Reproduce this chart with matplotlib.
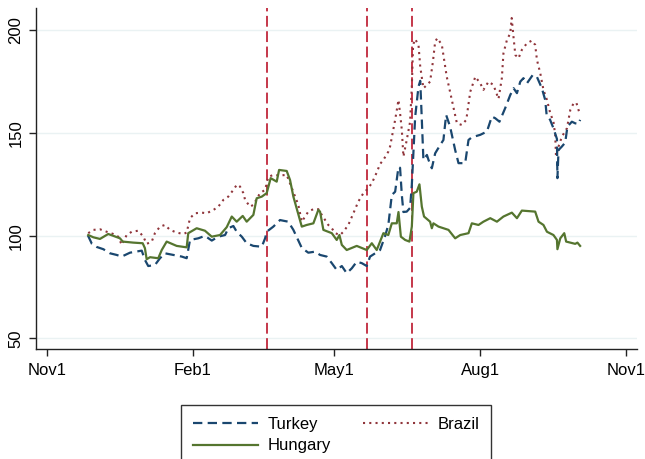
import pandas as pd
import matplotlib.pyplot as plt

# days after 1 Nov 2017 (index = 100)
turkey_days = [26, 28.5, 31.5, 35.7, 39.9, 44.1, 47.3, 52.5, 59.9, 61.9, 64, 68.2, 71.4, 74.5, 79.8,
               85.1, 88.2, 90.3, 95.5, 99.7, 104, 108.1, 112.4, 114.4, 117.6, 119.7, 122.9, 126,
               130.2, 135.5, 137.6, 138.6, 142.8, 147, 149.5, 152.2, 155.4, 160.7, 164.8, 169.1,
               172.2, 176.4, 179.6, 182.7, 185.9, 189, 192.2, 195.3, 198.5, 201.6, 203.7, 206.9,
               210, 213.2, 215.2, 217.4, 219.5, 221.6, 222.6, 223.7, 224.7, 226.8, 228.9, 230,
               232.1, 234.2, 235.3, 236.3, 237.3, 239.5, 240.5, 242.6, 244.7, 247.9, 249.9, 251.6,
               254.1, 257.3, 259.4, 263.6, 265.7, 267.8, 273.1, 277.3, 280.4, 282.5, 285.2, 288.8,
               292, 294.1, 296.2, 298.3, 300.3, 302.5, 306.2, 308.8, 311.9, 314, 314.9, 317.1,
               319.2, 321.4, 321.7, 322.4, 324.5, 326.6, 328, 330.8, 332.9, 335, 336]
turkey = [100.1, 96.0, 94.5, 93.4, 91.4, 90.6, 89.8, 91.7, 92.7, 88.2, 85.2, 85.7, 89.0, 91.4, 90.6,
          89.8, 89.0, 97.9, 98.7, 99.9, 97.6, 99.5, 100.3, 103.6, 104.7, 101.9, 99.5, 96.3,
          95.0, 94.6, 98.7, 101.9, 104.4, 107.6, 107.2, 106.8, 102.8, 94.0, 91.7, 92.2,
          90.6, 89.8, 86.6, 83.3, 85.2, 81.7, 84.1, 87.3, 86.6, 85.2, 89.8, 91.4,
          93.0, 99.9, 105.2, 119.8, 121.4, 133.5, 133.0, 119.8, 111.5, 111.7, 113.5, 124.7,
          157.8, 172.6, 175.4, 156.4, 136.9, 139.3, 136.9, 132.8, 140.1, 144.2, 146.6, 158.8,
          153.1, 141.7, 135.3, 135.3, 146.6, 147.9, 149.1, 150.7, 158.0, 157.2, 155.5, 162.1,
          168.5, 171.8, 169.4, 175.0, 176.7, 174.2, 178.3, 177.3, 171.8, 166.1, 158.8, 156.4,
          152.3, 147.1, 128.0, 141.7, 143.4, 145.3, 153.1, 155.5, 154.7, 154.4, 156.4]

hungary_days = [26.2, 29.4, 33.6, 38.8, 42, 46.2, 47.9, 54.6, 60.5, 61.9, 63, 65.1, 70.3, 72.5, 75.6,
                81.9, 88.2, 89.2, 94.5, 99.7, 104, 109.2, 113.4, 116.6, 119.7, 123.5, 126, 130.2,
                132.3, 135.5, 138.6, 141.1, 144.9, 146.4, 151.2, 153.3, 155.4, 160.7, 163.8, 168,
                171.1, 172.2, 174.3, 179.6, 182.7, 184.4, 185.9, 189, 195.3, 201.6, 204.8, 207.9,
                212.1, 215.2, 217.4, 220.5, 221.6, 223.1, 225.8, 228.5, 230, 231, 233.1, 234.8,
                236.3, 237.7, 241.5, 242.6, 243.6, 246.8, 253.1, 257.3, 260.5, 265.7, 267.8, 272,
                275.1, 279.4, 283.6, 287.7, 293, 296.2, 299.3, 307.7, 309.8, 312.9, 315.1, 319.2,
                321.4, 321.7, 323.5, 326, 327.2, 329.8, 332.9, 334.3, 336]
hungary = [100.3, 99.2, 98.4, 100.8, 99.9, 98.7, 97.1, 96.6, 96.3, 93.9, 88.5, 89.5, 89.0, 93.0, 97.1,
           95.0, 94.3, 101.2, 103.6, 102.4, 99.5, 100.3, 104.1, 109.3, 106.8, 109.6, 106.8, 110.1,
           118.2, 119.0, 120.7, 128.0, 126.3, 132.0, 131.5, 127.1, 119.0, 104.4, 105.2, 106.0,
           112.5, 111.7, 102.8, 101.2, 97.9, 100.3, 95.5, 93.0, 95.0, 93.0, 96.3, 93.0,
           101.2, 100.3, 106.0, 106.0, 111.5, 99.5, 97.9, 97.1, 104.4, 120.7, 121.4, 125.0,
           114.1, 109.3, 106.8, 103.6, 106.0, 104.4, 102.8, 98.7, 100.3, 101.2, 106.0, 105.2,
           106.8, 108.5, 106.8, 109.3, 111.2, 108.5, 112.2, 111.7, 106.8, 105.2, 101.9, 100.3,
           97.9, 93.4, 98.7, 101.2, 97.1, 96.6, 96.0, 96.6, 95.0]

brazil_days = [26.2, 29.4, 33.6, 37.8, 42, 45.1, 47.3, 50.4, 53.6, 57.7, 60.9, 63, 66.2, 68.2, 71.4,
               74.5, 77.7, 81.9, 86.1, 88.2, 90.3, 93.4, 97.7, 100.8, 105, 108.1, 111.3, 114.4,
               117.6, 119.9, 121.8, 123.9, 125, 128.1, 130.2, 134.4, 137.6, 139.6, 142.8, 147,
               151.2, 154.4, 156.5, 158.5, 160.7, 162.8, 164.8, 168, 171.1, 173.3, 175.4, 177.4,
               179.6, 181.7, 184.8, 186.9, 190, 193.2, 196.3, 199.5, 201.6, 204.8, 207.9, 210,
               212.1, 215.2, 216.3, 219.5, 221.6, 222.6, 223.7, 224.7, 226.8, 228.9, 230, 230.8,
               232.1, 234.2, 235.3, 237.3, 239.5, 241.5, 243.3, 244.7, 246.1, 248.9, 252, 255.2,
               258.4, 261.5, 264.3, 266.8, 270, 273.1, 275.1, 278.3, 281.4, 284.6, 286.7, 287.7,
               289.9, 292, 292.9, 294.1, 295.2, 297.2, 299.3, 302.5, 305.6, 307.7, 308.8, 310.9,
               312.9, 315.1, 317.2, 319.2, 320.3, 320.8, 322.4, 324.5, 327.7, 329.8, 331.9, 333.6,
               335, 336]
brazil = [101.2, 102.8, 103.1, 101.9, 100.8, 99.5, 95.5, 100.3, 101.9, 102.4, 99.5, 96.0, 97.1, 101.2, 104.4,
          105.2, 102.8, 101.5, 100.8, 101.5, 108.5, 110.9, 111.2, 110.9, 112.5, 114.1, 117.4, 119.0,
          122.3, 124.9, 123.9, 120.7, 117.4, 114.1, 115.0, 120.7, 122.3, 128.6, 129.6, 129.3,
          129.6, 123.2, 119.0, 115.0, 106.8, 109.3, 111.7, 112.9, 112.9, 110.1, 107.6, 105.2,
          103.6, 101.2, 100.3, 101.9, 105.2, 110.9, 116.6, 120.7, 122.3, 125.5, 130.8, 134.9,
          136.9, 140.9, 143.4, 156.4, 166.1, 159.6, 151.5, 138.5, 146.6, 155.4, 172.6, 192.9,
          195.7, 192.9, 182.3, 171.8, 173.4, 175.0, 184.8, 194.5, 196.2, 192.9, 177.4, 166.1,
          154.7, 153.9, 156.4, 170.1, 177.4, 174.2, 171.0, 175.0, 173.4, 166.6, 176.7, 188.8,
          195.3, 198.6, 206.0, 196.2, 188.0, 186.4, 190.5, 193.7, 195.0, 192.9, 185.6, 179.1,
          171.0, 166.1, 159.6, 155.5, 149.0, 138.8, 143.4, 148.2, 152.3, 161.2, 164.5, 164.8,
          161.2, 158.8]

event_dates = ["2018-03-20", "2018-05-22", "2018-06-19"]
tick_dates = ["2017-11-01", "2018-02-01", "2018-05-01", "2018-08-01", "2018-11-01"]
tick_labels = ["Nov1", "Feb1", "May1", "Aug1", "Nov1"]

start = pd.Timestamp("2017-11-01")
def to_dates(d):
    return start + pd.to_timedelta(d, unit="D")

plt.rcParams['font.family'] = ['Liberation Sans', 'DejaVu Sans']

fig = plt.figure(figsize=(6.45, 4.59), dpi=100)
ax = fig.add_axes([0.0558, 0.2397, 0.932, 0.743])

ax.set_axisbelow(True)
ax.yaxis.grid(True, color='#eaf2f3', linewidth=1.0)

for d in event_dates:
    ax.axvline(pd.Timestamp(d), color='#c0283c', linewidth=1.3, dashes=(6, 2.5), zorder=1)

l_tur, = ax.plot(to_dates(turkey_days), turkey, color='#1a476f', linewidth=1.6,
                 dashes=(4.2, 2.4), label='Turkey', zorder=3)
l_bra, = ax.plot(to_dates(brazil_days), brazil, color='#90353b', linewidth=1.5,
                 linestyle=(0, (1, 2)), label='Brazil', zorder=2)
l_hun, = ax.plot(to_dates(hungary_days), hungary, color='#55752f', linewidth=1.6,
                 label='Hungary', zorder=3)

ax.set_xlim(start - pd.Timedelta(days=6.7), start + pd.Timedelta(days=371.9))
ax.set_ylim(44.8, 210.9)
ax.set_xticks(pd.to_datetime(tick_dates))
ax.set_xticklabels(tick_labels)
ax.set_yticks([50, 100, 150, 200])
for lab in ax.get_yticklabels():
    lab.set_rotation(90)
    lab.set_va('center')

ax.tick_params(axis='both', labelsize=12, length=5, width=1, color='#222222', direction='out')
ax.tick_params(axis='x', pad=5)
ax.tick_params(axis='y', pad=4)
for s in ['top', 'right']:
    ax.spines[s].set_visible(False)
for s in ['left', 'bottom']:
    ax.spines[s].set_color('#222222')
    ax.spines[s].set_linewidth(1.0)

leg = fig.legend(handles=[l_tur, l_hun, l_bra], loc='upper center',
                 bbox_to_anchor=(336 / 645, 1 - 405 / 459), borderaxespad=0, ncol=2, fontsize=12,
                 frameon=True, fancybox=False, edgecolor='black', handlelength=3.9,
                 handletextpad=0.6, columnspacing=1.9, labelspacing=0.4, borderpad=0.7)
leg.get_frame().set_linewidth(1.0)

fig.savefig('out.png', dpi=100)
